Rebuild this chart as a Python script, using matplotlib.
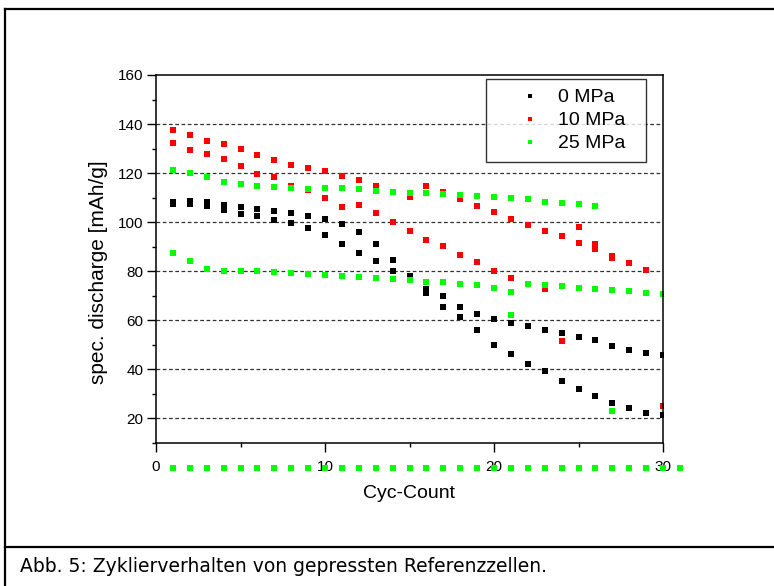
import numpy as np
import matplotlib
matplotlib.use("Agg")
import matplotlib.pyplot as plt
from matplotlib.lines import Line2D
from matplotlib.ticker import MultipleLocator

plt.rcParams['font.family'] = ['Liberation Sans', 'DejaVu Sans']

nan = np.nan
cycles = np.arange(1, 31)

# two cells per pressure (nan = no point)
black_a = [108.4, 108.8, 108.4, 107.2, 106.1, 105.2, 104.6, 103.8, 102.7, 101.3,
           99.3, 96.0, 91.0, 84.4, 78.2, 72.9, 69.9, 65.3, 62.7, 60.7,
           59.1, 57.8, 56.2, 54.7, 53.2, 52.0, 49.5, 47.8, 46.8, 45.7]
black_b = [107.6, 107.6, 106.8, 104.8, 103.5, 102.7, 100.7, 99.5, 97.7, 94.7,
           91.3, 87.6, 84.0, 80.3, 78.0, 71.3, 65.6, 61.3, 56.2, 49.9,
           46.2, 42.4, 39.5, 35.4, 32.2, 29.2, 26.5, 24.4, 22.3, 21.5]

red_a = [137.6, 135.4, 133.2, 131.8, 129.8, 127.3, 125.3, 123.5, 121.9, 120.7,
         118.8, 117.0, 114.7, 112.2, 110.3, 114.6, 112.4, 109.5, 106.5, 104.0,
         101.2, 98.8, 96.6, 94.3, 91.4, 89.0, 85.6, 83.3, 80.4, 25.2]
red_b = [132.1, 129.4, 128.0, 125.6, 123.1, 119.6, 118.4, 114.8, 113.2, 109.7,
         106.1, 107.2, 103.7, 99.9, 96.6, 92.9, 90.2, 86.7, 83.6, 80.3,
         77.4, 74.7, 72.7, 51.4, 98.0, 91.3, 86.4, nan, nan, nan]

green_a = [121.1, 119.9, 118.4, 116.3, 115.4, 114.7, 114.3, 113.9, 113.5, 113.9,
           113.8, 113.5, 112.9, 112.5, 112.1, 111.8, 111.4, 110.9, 110.6, 110.3,
           109.8, 109.4, 108.4, 107.8, 107.3, 106.8, nan, nan, nan, nan]
green_b = [87.6, 84.0, 81.1, 80.3, 80.3, 80.3, 79.8, 79.4, 78.7, 78.6,
           77.9, 77.5, 77.4, 77.0, 76.3, 75.5, 75.5, 74.7, 74.2, 73.3,
           71.7, 75.0, 74.6, 73.9, 73.3, 72.8, 72.2, 71.8, 71.3, 70.9]
green_extra_cycles = [21, 27]
green_extra = [62.3, 22.9]

# empty cells recorded as 0, drawn below the axis
zero_cycles = np.arange(1, 32)
zero_values = np.zeros(31)

fig = plt.figure(figsize=(7.74, 5.86), dpi=100)
ax = fig.add_axes([156 / 774, 1 - 443 / 586, 507 / 774, 368 / 586])

ms = 3.8
kw = dict(linestyle='none', marker='s', markersize=ms, markeredgewidth=0)
ax.plot(cycles, black_a, color='black', label='0 MPa', **kw)
ax.plot(cycles, black_b, color='black', **kw)
ax.plot(cycles, red_a, color='#ff0000', label='10 MPa', **kw)
ax.plot(cycles, red_b, color='#ff0000', **kw)
ax.plot(cycles, green_a, color='#00ff00', label='25 MPa', **kw)
ax.plot(cycles, green_b, color='#00ff00', **kw)
ax.plot(green_extra_cycles, green_extra, color='#00ff00', **kw)
ax.plot(zero_cycles, zero_values, color='#00ff00', clip_on=False, **kw)

ax.set_xlim(0, 30)
ax.set_ylim(10, 160)
ax.xaxis.set_major_locator(MultipleLocator(10))
ax.xaxis.set_minor_locator(MultipleLocator(5))
ax.yaxis.set_major_locator(MultipleLocator(20))
ax.yaxis.set_minor_locator(MultipleLocator(10))

for v in range(20, 160, 20):
    ax.axhline(v, color='#333333', lw=0.9, linestyle=(0, (3, 2)), zorder=0)

ax.tick_params(which='major', direction='out', length=6.5, width=1, labelsize=11)
ax.tick_params(which='minor', direction='out', length=3.2, width=1)
ax.tick_params(axis='x', pad=6)
ax.tick_params(axis='y', pad=2.5)
for s in ax.spines.values():
    s.set_linewidth(1.1)

fig.text(98 / 774, 1 - 272 / 586, 'spec. discharge [mAh/g]', rotation=90,
         ha='center', va='center', fontsize=15)
fig.text(409 / 774, 1 - 494 / 586, 'Cyc-Count', ha='center', va='center', fontsize=14)

leg = ax.legend(loc='upper left', bbox_to_anchor=(0.651, 0.989, 0.315, 0.0),
                mode='expand', fontsize=14, frameon=True, fancybox=False,
                borderpad=0.5, labelspacing=0.28, handlelength=3.5,
                handletextpad=-0.3, markerscale=0.8, borderaxespad=0)
leg.get_frame().set_edgecolor('black')
leg.get_frame().set_linewidth(1.0)

# outer frame and caption separator
lw = 1.6
fig.add_artist(Line2D([5 / 774, 5 / 774], [0, 1 - 9 / 586], color='black', lw=lw))
fig.add_artist(Line2D([5 / 774, 1], [1 - 9 / 586, 1 - 9 / 586], color='black', lw=lw))
fig.add_artist(Line2D([5 / 774, 1], [1 - 547 / 586, 1 - 547 / 586], color='black', lw=lw))

fig.text(20 / 774, 1 - 566 / 586, 'Abb. 5: Zyklierverhalten von gepressten Referenzzellen.',
         ha='left', va='center', fontsize=13.5, family=['DejaVu Sans'])

fig.savefig('out.png', dpi=100)
